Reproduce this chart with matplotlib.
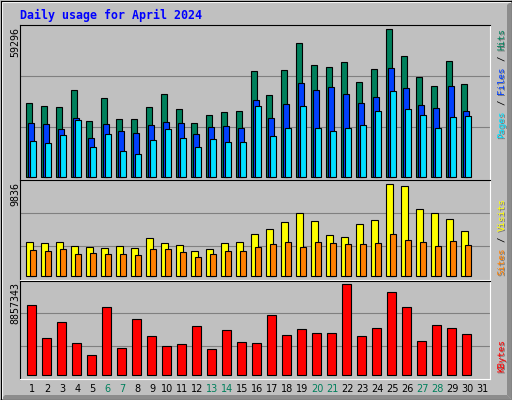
import matplotlib
matplotlib.use("Agg")
import matplotlib.pyplot as plt
from matplotlib.patches import Polygon
import numpy as np

# ---------------- data ----------------
title = "Daily usage for April 2024"
day_labels = [str(d) for d in range(1, 32)]
weekend_days = [6, 7, 13, 14, 20, 21, 27, 28]
data_days = list(range(1, 31))

hits = [29530, 28320, 27920, 34760, 22290, 31540, 23090, 23090, 27920, 33150,
        27115, 21480, 24700, 25910, 26310, 42400, 32750, 42800, 53670, 44820,
        44010, 46020, 37980, 43210, 59296, 48440, 39990, 36370, 46430, 37170]
files = [21480, 21080, 19070, 23490, 15450, 21080, 18260, 17460, 20680, 21880,
         21480, 17060, 19870, 20280, 19470, 30740, 23490, 29130, 37570, 34760,
         35970, 33150, 29530, 31940, 43610, 35560, 28720, 27520, 36370, 26310]
pages = [14240, 13440, 16660, 22690, 11830, 17060, 10220, 9010, 14640, 19070,
         15450, 11830, 15050, 13840, 13840, 28320, 16250, 19470, 28320, 19470,
         18260, 19470, 20680, 26310, 34360, 27120, 24700, 19470, 23900, 24300]
visits = [3635, 3528, 3635, 3207, 3100, 2993, 3207, 2993, 4063, 3528,
          3314, 2673, 2887, 3528, 3635, 4490, 5025, 5773, 6735, 5880,
          4383, 4170, 5560, 5987, 9836, 9622, 7163, 6735, 6094, 4811]
sites = [2780, 2673, 2887, 2352, 2459, 2352, 2352, 2245, 2887, 2887,
         2566, 2031, 2352, 2673, 2673, 3100, 3421, 3635, 3100, 3635,
         3528, 3421, 3421, 3528, 4490, 3849, 3635, 3207, 3742, 3314]
kbytes = [6813000, 3601000, 5159000, 3115000, 1947000, 6619000, 2628000, 5451000, 3796000, 2823000,
          3017000, 4769000, 2531000, 4380000, 3212000, 3115000, 5840000, 3893000, 4477000, 4088000,
          4088000, 8857343, 3796000, 4575000, 8079000, 6619000, 3309000, 4867000, 4575000, 3991000]

# ---------------- style ----------------
C_HITS, C_FILES, C_PAGES = '#00805c', '#0040ff', '#00e0ff'
C_VISITS, C_SITES, C_KB = '#ffff00', '#ff8000', '#ff0000'
BG = '#c0c0c0'
GRID = '#808080'
W, H = 512, 400
PX = 1 / 15.0          # one pixel in day units
XLO = 1 - 5 * PX
XHI = XLO + 470 * PX

fig = plt.figure(figsize=(W / 100, H / 100), dpi=100)
fig.patch.set_facecolor(BG)

bg = fig.add_axes([0, 0, 1, 1], zorder=0)
bg.set_xlim(0, W)
bg.set_ylim(H, 0)
bg.axis('off')
bg.patch.set_alpha(0)

# outer 3D frame
bg.add_patch(Polygon([(512, 0), (507, 5), (507, 395), (512, 400)], closed=True,
                     facecolor='#8c8c8c', edgecolor='none'))
bg.add_patch(Polygon([(0, 400), (5, 395), (507, 395), (512, 400)], closed=True,
                     facecolor='#8c8c8c', edgecolor='none'))
bg.plot([1, 510], [1.5, 1.5], color='white', lw=0.8)
bg.plot([1.5, 1.5], [1, 398], color='white', lw=0.8)
bg.plot([0.5, 511.5, 511.5, 0.5, 0.5], [0.5, 0.5, 399.5, 399.5, 0.5], color='black', lw=0.8)

# title
bg.text(20, 19.3, title, family='DejaVu Sans Mono', fontweight='bold', fontsize=8.4,
        color='#0000ff', ha='left', va='baseline')


def make_panel(top, bottom, zero_px, maxval, maxbar_px, grid_px):
    ax = fig.add_axes([20 / W, 1 - bottom / H, 470 / W, (bottom - top) / H], zorder=2)
    scale = maxval / maxbar_px
    lo = -(bottom - zero_px) * scale
    hi = lo + (bottom - top) * scale
    ax.set_ylim(lo, hi)
    ax.set_xlim(XLO, XHI)
    ax.set_facecolor(BG)
    for s in ('top', 'left'):
        ax.spines[s].set_color('black')
        ax.spines[s].set_linewidth(0.8)
    for s in ('bottom', 'right'):
        ax.spines[s].set_color('white')
        ax.spines[s].set_linewidth(0.8)
    ax.set_xticks([])
    ax.set_yticks([])
    for g in grid_px:
        ax.axhline((zero_px - g) * scale, color=GRID, lw=0.8, zorder=0.5)
    # max label
    bg.text(15, top + 2, str(maxval), family='DejaVu Sans Mono', fontsize=7.2,
            rotation=90, ha='center', va='top', color='black')
    return ax


x = np.array(data_days, dtype=float)
bar_kw = dict(align='edge', edgecolor='black', linewidth=0.8, zorder=2)

ax1 = make_panel(25, 179.5, 176.7, max(hits), 147.4, [127, 76])
ax1.bar(x + 0.8 * PX, hits, width=6 * PX, color=C_HITS, **bar_kw)
ax1.bar(x + 2.8 * PX, files, width=6.4 * PX, color=C_FILES, **bar_kw)
ax1.bar(x + 4.8 * PX, pages, width=6 * PX, color=C_PAGES, **bar_kw)

ax2 = make_panel(180, 279.5, 276.3, max(visits), 92, [246.3, 213.3])
ax2.bar(x + 0.8 * PX, visits, width=7.4 * PX, color=C_VISITS, **bar_kw)
ax2.bar(x + 4.8 * PX, sites, width=6 * PX, color=C_SITES, **bar_kw)

ax3 = make_panel(280.5, 378.5, 375.3, max(kbytes), 91, [346.3, 313.3])
ax3.bar(x + 1.8 * PX, kbytes, width=9 * PX, color=C_KB, **bar_kw)

# day labels
ax3.set_xticks(np.arange(1, 32) + 0.5)
ax3.set_xticklabels(day_labels, family='DejaVu Sans', fontsize=7)
ax3.tick_params(axis='x', length=0, pad=4.2)
for lbl, d in zip(ax3.get_xticklabels(), range(1, 32)):
    lbl.set_color(C_HITS if d in weekend_days else 'black')


# right-side vertical legends
def vlabel(pieces, x_base, y_start, fs=6.6):
    adv = 0.602 * fs * 100 / 72
    pos = 0
    for txt, col in pieces:
        y = y_start - pos * adv
        kw = dict(family='DejaVu Sans Mono', fontsize=fs, rotation=90,
                  rotation_mode='anchor', ha='left', va='baseline')
        if col != 'black':
            bg.text(x_base + 1, y + 1, txt, color='#7a7a7a', **kw)
        bg.text(x_base, y, txt, color=col, **kw)
        pos += len(txt)


vlabel([('Pages', C_PAGES), (' ', 'black'), ('/', 'black'), (' ', 'black'), ('Files', C_FILES),
        (' ', 'black'), ('/', 'black'), (' ', 'black'), ('Hits', C_HITS)], 504.3, 138)
vlabel([('Sites', C_SITES), (' ', 'black'), ('/', 'black'), (' ', 'black'), ('Visits', C_VISITS)], 504.3, 275)
vlabel([('KBytes', C_KB)], 504.3, 372)

fig.savefig('out.png', dpi=100, facecolor=fig.get_facecolor())
